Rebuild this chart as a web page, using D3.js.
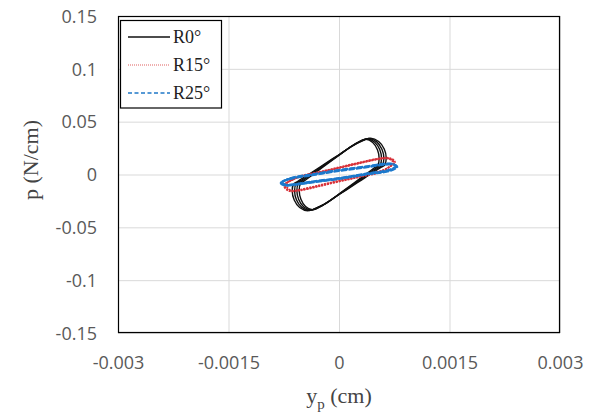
<!DOCTYPE html>
<html><head><meta charset="utf-8">
<script src="https://cdn.jsdelivr.net/npm/d3@7"></script>
<style>body{margin:0;background:#fff}svg{display:block}</style>
</head><body>
<svg id="c" width="597" height="416"></svg>
<script>
// ---- data ----
const xTicks = [-0.003, -0.0015, 0, 0.0015, 0.003];
const xTickLabels = ["-0.003", "-0.0015", "0", "0.0015", "0.003"];
const yTicks = [-0.15, -0.1, -0.05, 0, 0.05, 0.1, 0.15];
const yTickLabels = ["-0.15", "-0.1", "-0.05", "0", "0.05", "0.1", "0.15"];
const seriesNames = ["R0°", "R15°", "R25°"];

// R0° : several hysteresis cycles [y_p (cm), p (N/cm)]
const r0Cycle1 = [[0.000430,0.0343],[0.000539,0.0312],[0.000614,0.0241],[0.000641,0.0156],[0.000620,0.0090],[0.000559,0.0062],[0.000430,0.0005],[0.000254,-0.0076],[0.000003,-0.0189],[-0.000235,-0.0293],[-0.000425,-0.0343],[-0.000534,-0.0312],[-0.000608,-0.0241],[-0.000635,-0.0156],[-0.000615,-0.0090],[-0.000554,-0.0062],[-0.000425,-0.0005],[-0.000248,0.0076],[0.000003,0.0189],[0.000240,0.0293]];
const r0Cycle2 = [[0.000409,0.0340],[0.000512,0.0309],[0.000583,0.0239],[0.000609,0.0154],[0.000589,0.0089],[0.000531,0.0061],[0.000409,0.0005],[0.000241,-0.0075],[0.000003,-0.0187],[-0.000223,-0.0290],[-0.000404,-0.0340],[-0.000507,-0.0309],[-0.000578,-0.0239],[-0.000603,-0.0154],[-0.000584,-0.0089],[-0.000526,-0.0061],[-0.000404,-0.0005],[-0.000236,0.0075],[0.000003,0.0187],[0.000228,0.0290]];
const r0Cycle3 = [[0.000387,0.0336],[0.000485,0.0306],[0.000553,0.0236],[0.000577,0.0153],[0.000558,0.0088],[0.000503,0.0061],[0.000387,0.0005],[0.000229,-0.0074],[0.000003,-0.0185],[-0.000212,-0.0287],[-0.000383,-0.0336],[-0.000481,-0.0306],[-0.000547,-0.0236],[-0.000572,-0.0153],[-0.000554,-0.0088],[-0.000499,-0.0061],[-0.000383,-0.0005],[-0.000223,0.0074],[0.000003,0.0185],[0.000216,0.0287]];
const r0Cycle4 = [[0.000366,0.0333],[0.000458,0.0303],[0.000522,0.0234],[0.000545,0.0151],[0.000527,0.0087],[0.000475,0.0060],[0.000366,0.0005],[0.000216,-0.0074],[0.000003,-0.0183],[-0.000200,-0.0284],[-0.000361,-0.0333],[-0.000454,-0.0303],[-0.000517,-0.0234],[-0.000540,-0.0151],[-0.000523,-0.0087],[-0.000471,-0.0060],[-0.000361,-0.0005],[-0.000211,0.0074],[0.000003,0.0183],[0.000204,0.0284]];

// R15°
const r15Cycle1 = [[-0.00074,-0.0100],[-0.00065,-0.0055],[-0.00053,-0.0020],[-0.00026,0.0022],[0.00000,0.0064],[0.00028,0.0110],[0.00055,0.0150],[0.00068,0.0152],[0.00075,0.0115],[0.00068,0.0070],[0.00055,0.0025],[0.00028,-0.0020],[0.00000,-0.0063],[-0.00026,-0.0105],[-0.00053,-0.0148],[-0.00067,-0.0152]];
const r15Cycle2 = [[-0.00072,-0.0095],[-0.00063,-0.0050],[-0.00053,-0.0024],[-0.00026,0.0018],[0.00000,0.0060],[0.00028,0.0105],[0.00054,0.0145],[0.00067,0.0148],[0.00074,0.0112],[0.00067,0.0066],[0.00054,0.0028],[0.00028,-0.0016],[0.00000,-0.0058],[-0.00026,-0.0100],[-0.00053,-0.0143],[-0.00066,-0.0148]];
const r15Cycle3 = [[-0.00075,-0.0105],[-0.00066,-0.0058],[-0.00053,-0.0017],[-0.00026,0.0026],[0.00000,0.0068],[0.00028,0.0114],[0.00056,0.0154],[0.00069,0.0155],[0.00076,0.0120],[0.00069,0.0074],[0.00056,0.0022],[0.00028,-0.0024],[0.00000,-0.0067],[-0.00026,-0.0110],[-0.00054,-0.0152],[-0.00068,-0.0155]];

// R25°
const r25Cycle1 = [[-0.00078,-0.0076],[-0.00067,-0.0040],[-0.00040,-0.0006],[0.00000,0.0038],[0.00035,0.0070],[0.00062,0.0097],[0.00073,0.0098],[0.00078,0.0076],[0.00069,0.0040],[0.00039,0.0006],[0.00000,-0.0038],[-0.00036,-0.0070],[-0.00063,-0.0097],[-0.00074,-0.0098]];
const r25Cycle2 = [[-0.00077,-0.0072],[-0.00066,-0.0036],[-0.00040,-0.0002],[0.00000,0.0042],[0.00035,0.0074],[0.00061,0.0100],[0.00072,0.0101],[0.00077,0.0080],[0.00068,0.0044],[0.00039,0.0010],[0.00000,-0.0034],[-0.00036,-0.0066],[-0.00062,-0.0093],[-0.00073,-0.0095]];
const r25Cycle3 = [[-0.00079,-0.0080],[-0.00068,-0.0044],[-0.00040,-0.0010],[0.00000,0.0034],[0.00035,0.0066],[0.00063,0.0094],[0.00074,0.0095],[0.00079,0.0072],[0.00070,0.0036],[0.00039,0.0002],[0.00000,-0.0042],[-0.00036,-0.0074],[-0.00064,-0.0101],[-0.00075,-0.0102]];

const r0Cycles = [r0Cycle1, r0Cycle2, r0Cycle3, r0Cycle4];
const r15Cycles = [r15Cycle1, r15Cycle2, r15Cycle3];
const r25Cycles = [r25Cycle1, r25Cycle2, r25Cycle3];

// ---- drawing ----
const svg = d3.select("#c");
const L = 118, R = 560, T = 16, B = 333;
const x = d3.scaleLinear().domain([-0.003, 0.003]).range([L, R]);
const y = d3.scaleLinear().domain([-0.15, 0.15]).range([B, T]);

// gridlines
const xAxisG = svg.append("g").attr("transform", `translate(0,${B})`)
  .call(d3.axisBottom(x).tickValues(xTicks).tickSize(-(B - T)).tickFormat((d, i) => xTickLabels[i]));
xAxisG.select(".domain").remove();
xAxisG.selectAll(".tick line").attr("stroke", "#d9d9d9").attr("stroke-width", 1);
xAxisG.selectAll(".tick text").attr("font-family", "'Open Sans', sans-serif").attr("font-size", 18)
  .attr("fill", "#595959").attr("dy", "0").attr("y", 36);

const yAxisG = svg.append("g").attr("transform", `translate(${L},0)`)
  .call(d3.axisLeft(y).tickValues(yTicks).tickSize(-(R - L)).tickFormat((d, i) => yTickLabels[i]));
yAxisG.select(".domain").remove();
yAxisG.selectAll(".tick line").attr("stroke", "#d9d9d9").attr("stroke-width", 1);
yAxisG.selectAll(".tick text").attr("font-family", "'Open Sans', sans-serif").attr("font-size", 18)
  .attr("fill", "#595959").attr("x", -21).attr("dy", "0.35em");

// plot border
svg.append("rect").attr("x", L + 0.5).attr("y", T + 0.5).attr("width", R - L - 1).attr("height", B - T - 1)
  .attr("fill", "none").attr("stroke", "#000").attr("stroke-width", 1.2);

const line = d3.line().x(d => x(d[0])).y(d => y(d[1])).curve(d3.curveCatmullRomClosed.alpha(0.5));

const g = svg.append("g");
g.selectAll("path.r0").data(r0Cycles).join("path").attr("class", "r0")
  .attr("d", line).attr("fill", "none").attr("stroke", "#111").attr("stroke-width", 1.4);
g.selectAll("path.r15").data(r15Cycles).join("path").attr("class", "r15")
  .attr("d", line).attr("fill", "none").attr("stroke", "#d8323a").attr("stroke-width", 1.7)
  .attr("stroke-dasharray", "2,1");
g.selectAll("path.r25").data(r25Cycles).join("path").attr("class", "r25")
  .attr("d", line).attr("fill", "none").attr("stroke", "#1c79cc").attr("stroke-width", 2.2)
  .attr("stroke-dasharray", "6,1.5");

// legend
const lg = svg.append("g");
lg.append("rect").attr("x", 120.5).attr("y", 20.5).attr("width", 101).attr("height", 87.5)
  .attr("fill", "#fff").attr("stroke", "#000").attr("stroke-width", 1.2);
const legStyles = [
  {c: "#111", w: 1.4, dash: null},
  {c: "#e06060", w: 1.2, dash: "1,1"},
  {c: "#1f78c8", w: 1.5, dash: "4,2.5"}
];
seriesNames.forEach((name, i) => {
  const cy = 37 + i * 28;
  lg.append("line").attr("x1", 128).attr("x2", 170).attr("y1", cy).attr("y2", cy)
    .attr("stroke", legStyles[i].c).attr("stroke-width", legStyles[i].w)
    .attr("stroke-dasharray", legStyles[i].dash);
  lg.append("text").attr("x", 173).attr("y", cy + 6).text(name)
    .attr("font-family", "'Liberation Serif', 'Times New Roman', serif").attr("font-size", 18).attr("fill", "#222");
});

// axis titles
svg.append("text").attr("transform", "translate(38,160) rotate(-90)").attr("text-anchor", "middle")
  .attr("font-family", "'Liberation Serif', 'Times New Roman', serif").attr("font-size", 22).attr("fill", "#444")
  .text("p (N/cm)");
const xt = svg.append("text").attr("x", 339).attr("y", 403).attr("text-anchor", "middle")
  .attr("font-family", "'Liberation Serif', 'Times New Roman', serif").attr("font-size", 22).attr("fill", "#444");
xt.append("tspan").text("y");
xt.append("tspan").attr("font-size", 15).attr("dy", 6).text("p");
xt.append("tspan").attr("dy", -6).text(" (cm)");
</script>
</body></html>
